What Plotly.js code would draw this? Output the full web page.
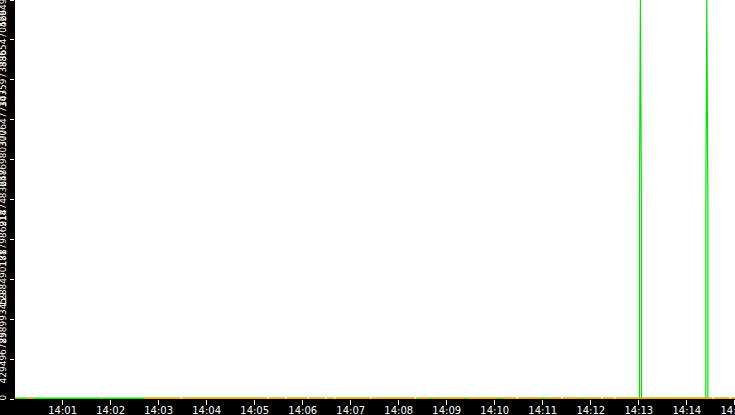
<!DOCTYPE html>
<html>
<head>
<meta charset="utf-8">
<script src="https://cdn.plot.ly/plotly-3.0.1.min.js"></script>
<style>
  html, body { margin: 0; padding: 0; background: #000; }
  #chart { width: 735px; height: 415px; }
</style>
</head>
<body>
<div id="chart"></div>
<script>
// Counter chart, 14:00 - 14:15
const day = '2024-01-01 ';

// y axis ticks (2^32 split in ten)
const yTickVals = [0, 429496729.6, 858993459.2, 1288490188.8, 1717986918.4, 2147483648,
    2576980377.6, 3006477107.2, 3435973836.8, 3865470566.4, 4294967296];
const yTickText = ['0', '429496729', '858993459', '1288490188', '1717986918', '2147483648',
    '2576980377', '3006477107', '3435973836', '3865470566', '4294967296'];

// green series along the bottom (null = no sample)
const greenTimes = ['14:00:00', '14:03:27', '14:03:28', '14:03:29', '14:05:16', '14:05:17',
    '14:05:18', '14:05:38', '14:05:39', '14:05:40', '14:06:06', '14:06:07', '14:06:08',
    '14:06:28', '14:06:29', '14:06:30', '14:06:39', '14:06:40', '14:06:41', '14:07:24',
    '14:07:25', '14:07:26', '14:08:20', '14:08:21', '14:08:22', '14:10:27', '14:10:28',
    '14:10:29', '14:11:23', '14:11:24', '14:11:25', '14:12:13', '14:12:14', '14:12:15',
    '14:12:29', '14:12:30', '14:12:31', '14:14:32', '14:14:33', '14:14:34', '14:14:53',
    '14:14:54', '14:14:55', '14:15:00'];
const greenValues = [0, 0, null, 0, 0, null, 0, 0, null, 0, 0, null, 0, 0, null, 0, 0, null,
    0, 0, null, 0, 0, null, 0, 0, null, 0, 0, null, 0, 0, null, 0, 0, null, 0, 0, null,
    0, 0, null, 0, 0];

// the two green spikes
const spikeTimes = ['14:13:00.75', '14:13:00.75', '14:13:02', '14:13:03.25', '14:13:03.25', '14:13:10',
    '14:14:23.75', '14:14:23.75', '14:14:25', '14:14:26.25', '14:14:26.25'];
const spikeValues = [0, 2147483648, 4294967295, 2147483648, 0, null,
    0, 2147483648, 4294967295, 2147483648, 0];

// orange series along the bottom
const orangeTimes = ['14:00:00', '14:00:04', '14:00:09', '14:00:14', '14:00:24', '14:01:00',
    '14:01:47', '14:01:50', '14:02:10', '14:02:42', '14:03:27', '14:03:28', '14:03:29',
    '14:05:16', '14:05:17', '14:05:18', '14:05:38', '14:05:39', '14:05:40', '14:06:06',
    '14:06:07', '14:06:08', '14:06:28', '14:06:29', '14:06:30', '14:06:39', '14:06:40',
    '14:06:41', '14:07:24', '14:07:25', '14:07:26', '14:08:20', '14:08:22', '14:08:24',
    '14:08:39', '14:08:40', '14:08:41', '14:08:48', '14:08:49', '14:08:50', '14:09:22',
    '14:09:23', '14:09:24', '14:10:03', '14:10:04', '14:10:05', '14:10:07', '14:10:08',
    '14:10:09', '14:10:27', '14:10:28', '14:10:29', '14:10:59', '14:11:00', '14:11:01',
    '14:11:06', '14:11:07', '14:11:08', '14:11:23', '14:11:24', '14:11:25', '14:11:49',
    '14:11:50', '14:11:51', '14:12:13', '14:12:14', '14:12:15', '14:12:29', '14:12:30',
    '14:12:31', '14:14:32', '14:14:33', '14:14:34', '14:14:53', '14:14:54', '14:14:55',
    '14:15:00'];
const orangeValues = [0, 0, null, 0, 0, null, 0, 0, null, 0, 0, null, 0, 0, null, 0, 0, null,
    0, 0, null, 0, 0, null, 0, 0, null, 0, 0, null, 0, 0, null, 0, 0, null, 0, 0, null,
    0, 0, null, 0, 0, null, 0, 0, null, 0, 0, null, 0, 0, null, 0, 0, null, 0, 0, null,
    0, 0, null, 0, 0, null, 0, 0, null, 0, 0, null, 0, 0, null, 0, 0];

const GREEN = '#00e600';
const ORANGE = '#ffa800';

const withDay = arr => arr.map(t => day + t);

const traces = [
    {
        x: withDay(greenTimes), y: greenValues,
        type: 'scatter', mode: 'lines',
        line: { color: GREEN, width: 3 },
        connectgaps: false, hoverinfo: 'skip'
    },
    {
        x: withDay(spikeTimes), y: spikeValues,
        type: 'scatter', mode: 'lines',
        line: { color: GREEN, width: 1.2 },
        connectgaps: false, hoverinfo: 'skip'
    },
    {
        x: withDay(orangeTimes), y: orangeValues,
        type: 'scatter', mode: 'lines',
        line: { color: ORANGE, width: 3 },
        connectgaps: false, hoverinfo: 'skip'
    }
];

const layout = {
    width: 735,
    height: 415,
    margin: { t: 0, b: 16, l: 15, r: 0, pad: 0 },
    paper_bgcolor: '#000000',
    plot_bgcolor: '#ffffff',
    showlegend: false,
    xaxis: {
        type: 'date',
        range: [day + '14:00:00.5', day + '14:15:00.2'],
        dtick: 60000,
        tick0: day + '14:00:00',
        tickformat: '%H:%M',
        ticks: 'outside',
        ticklen: 5,
        tickwidth: 1,
        tickcolor: '#ffffff',
        tickfont: { family: 'DejaVu Sans', size: 10, color: '#ffffff' },
        ticklabelstandoff: -3,
        ticklabeloverflow: 'allow',
        showgrid: false,
        zeroline: false,
        showline: false,
        fixedrange: true
    },
    yaxis: {
        range: [0, 4294967296],
        tickmode: 'array',
        tickvals: yTickVals,
        ticktext: yTickText,
        tickangle: -90,
        ticks: 'outside',
        ticklen: 4,
        tickwidth: 1,
        tickcolor: '#ffffff',
        tickfont: { family: 'DejaVu Sans', size: 9, color: '#ffffff' },
        ticklabeloverflow: 'allow',
        showgrid: false,
        zeroline: false,
        showline: false,
        fixedrange: true
    }
};

Plotly.newPlot('chart', traces, layout, { displayModeBar: false, staticPlot: true });
</script>
</body>
</html>
